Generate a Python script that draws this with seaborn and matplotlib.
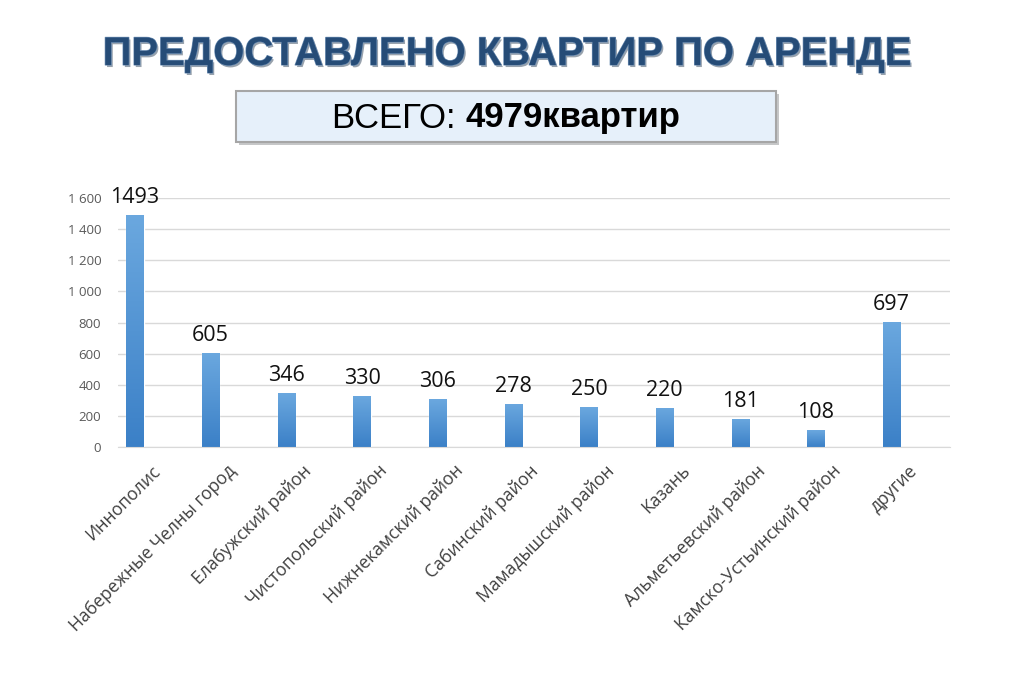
import numpy as np
import matplotlib
matplotlib.use("Agg")
import matplotlib.pyplot as plt
import matplotlib.patheffects as pe
from matplotlib.patches import FancyBboxPatch
from matplotlib.transforms import ScaledTranslation
from matplotlib.ticker import FuncFormatter
import seaborn as sns

# data
districts = ["Иннополис", "Набережные Челны город", "Елабужский район",
             "Чистопольский район", "Нижнекамский район", "Сабинский район",
             "Мамадышский район", "Казань", "Альметьевский район",
             "Камско-Устьинский район", "другие"]
bar_heights = [1493, 605, 346, 330, 306, 278, 255, 252, 181, 108, 805]
label_values = [1493, 605, 346, 330, 306, 278, 250, 220, 181, 108, 697]
y_ticks = [0, 200, 400, 600, 800, 1000, 1200, 1400, 1600]
title = "ПРЕДОСТАВЛЕНО КВАРТИР ПО АРЕНДЕ"
total_label = "ВСЕГО: "
total_value = "4979квартир"

sns.set_style("white")
plt.rcParams['font.family'] = ['Open Sans', 'DejaVu Sans']

fig = plt.figure(figsize=(10.24, 6.83), dpi=100)
ax = fig.add_axes([0.1152, 0.3455, 0.8125, 0.3646])

sns.barplot(x=districts, y=bar_heights, ax=ax, color="#4a90d4",
            width=0.23, saturation=1)

# vertical gradient on bars
grad = np.linspace(0, 1, 256).reshape(-1, 1)
cmap = matplotlib.colors.LinearSegmentedColormap.from_list(
    "bar", ["#3b80c7", "#6ba8df"])
for p in list(ax.patches):
    x0, y0 = p.get_x(), p.get_y()
    w, h = p.get_width(), p.get_height()
    im = ax.imshow(grad, extent=[x0, x0 + w, y0, y0 + h], origin="lower",
                   cmap=cmap, aspect="auto", zorder=p.get_zorder() + 0.1)
    im.set_clip_path(p)

for i, (h, v) in enumerate(zip(bar_heights, label_values)):
    ax.annotate(str(v), (i, h), xytext=(0, 5), textcoords="offset points",
                ha="center", va="bottom", fontsize=15.5, color="#111111")

# Excel leaves more room on the right than on the left
ax.set_xlim(-0.225, len(districts) - 0.23)
ax.set_ylim(0, 1600)
ax.set_yticks(y_ticks)
ax.yaxis.set_major_formatter(FuncFormatter(
    lambda v, _: f"{int(v):,}".replace(",", " ")))
ax.grid(axis="y", color="#d9d9d9", linewidth=1)
ax.set_axisbelow(True)
for s in ["top", "right", "left"]:
    ax.spines[s].set_visible(False)
ax.spines["bottom"].set_color("#d9d9d9")
ax.tick_params(axis="y", labelsize=9.5, colors="#595959", length=0, pad=12)
ax.tick_params(axis="x", labelsize=12.7, colors="#404040", length=0)
offset = ScaledTranslation(16 / 100, -10 / 100, fig.dpi_scale_trans)
for lbl in ax.get_xticklabels():
    lbl.set_rotation(45)
    lbl.set_ha("right")
    lbl.set_rotation_mode("anchor")
    lbl.set_transform(lbl.get_transform() + offset)

# title with shadow
fig.text(0.4945, 0.921, title, ha="center", va="center", fontsize=28.8,
         fontweight="bold", color="#264c77",
         family=["Liberation Sans"],
         path_effects=[pe.SimplePatchShadow(offset=(1.2, -1.5),
                                            shadow_rgbFace="#6d7b8a", alpha=0.7),
                       pe.withStroke(linewidth=0.9, foreground="#6f90b5")])

# total box
box = FancyBboxPatch((236 / 1024, 1 - 142 / 683), 540 / 1024, 51 / 683,
                     boxstyle="square,pad=0", transform=fig.transFigure,
                     facecolor="#e6f0fa", edgecolor="#a6a6a6", linewidth=1.5,
                     path_effects=[pe.SimplePatchShadow(offset=(2, -2),
                                                        alpha=0.3),
                                   pe.Normal()])
fig.patches.append(box)
ty = 1 - 118 / 683
t1 = fig.text(0.5, ty, total_label, ha="right", va="center",
              fontsize=25, color="black", family=["Liberation Sans"])
t2 = fig.text(0.5, ty, total_value, ha="left", va="center",
              fontsize=25, fontweight="bold", color="black",
              family=["Liberation Sans"])
fig.canvas.draw()
w1 = t1.get_window_extent().width / fig.bbox.width
w2 = t2.get_window_extent().width / fig.bbox.width
shift = (w1 - w2) / 2
t1.set_x(0.4945 + shift)
t2.set_x(0.4945 + shift)

fig.savefig("out.png", dpi=100)
